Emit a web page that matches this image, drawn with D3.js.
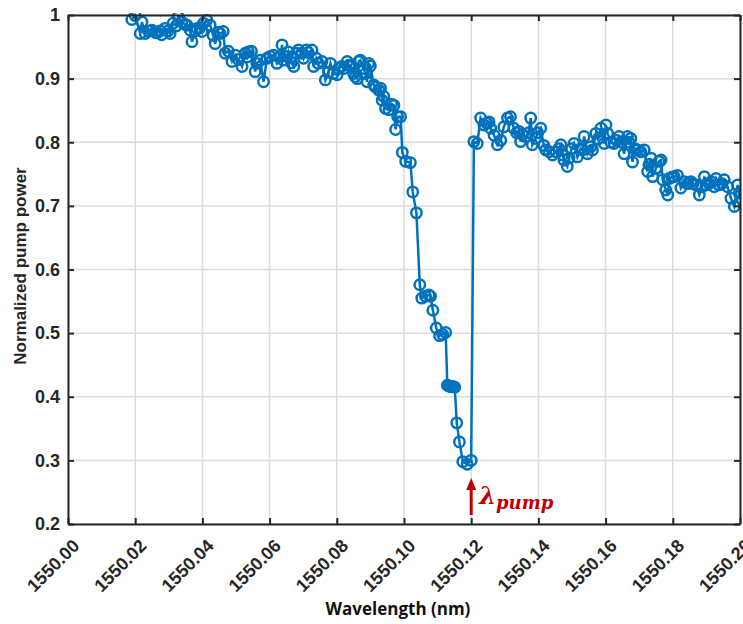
<!DOCTYPE html>
<html>
<head>
<meta charset="utf-8">
<script src="https://cdn.jsdelivr.net/npm/d3@7"></script>
<style>
  body { margin: 0; background: #fff; }
  svg { display: block; }
  .tick text { font-family: "Liberation Sans", Arial, sans-serif; font-weight: bold; fill: #262626; }
</style>
</head>
<body>
<div id="chart"></div>
<script>
// wavelength (nm) and normalized pump power
var wavelength = [
  1550.0190, 1550.0200, 1550.0215, 1550.0220, 1550.0230, 1550.0239, 1550.0250, 1550.0259, 1550.0264, 1550.0274,
  1550.0279, 1550.0289, 1550.0298, 1550.0304, 1550.0313, 1550.0322, 1550.0328, 1550.0339, 1550.0349, 1550.0354,
  1550.0364, 1550.0369, 1550.0379, 1550.0384, 1550.0393, 1550.0399, 1550.0403, 1550.0413, 1550.0423, 1550.0432,
  1550.0438, 1550.0447, 1550.0453, 1550.0462, 1550.0468, 1550.0477, 1550.0488, 1550.0498, 1550.0507, 1550.0518,
  1550.0528, 1550.0533, 1550.0537, 1550.0546, 1550.0557, 1550.0562, 1550.0572, 1550.0582, 1550.0592, 1550.0602,
  1550.0612, 1550.0622, 1550.0632, 1550.0637, 1550.0641, 1550.0652, 1550.0656, 1550.0665, 1550.0672, 1550.0680,
  1550.0686, 1550.0695, 1550.0701, 1550.0709, 1550.0715, 1550.0726, 1550.0731, 1550.0739, 1550.0745, 1550.0756,
  1550.0766, 1550.0775, 1550.0781, 1550.0790, 1550.0801, 1550.0805, 1550.0814, 1550.0821, 1550.0831, 1550.0836,
  1550.0841, 1550.0850, 1550.0855, 1550.0861, 1550.0865, 1550.0870, 1550.0880, 1550.0885, 1550.0890, 1550.0895,
  1550.0900, 1550.0910, 1550.0915, 1550.0925, 1550.0930, 1550.0935, 1550.0940, 1550.0945, 1550.0955, 1550.0963,
  1550.0970, 1550.0975, 1550.0981, 1550.0990, 1550.0995, 1550.1005, 1550.1019, 1550.1026, 1550.1037, 1550.1047,
  1550.1053, 1550.1064, 1550.1074, 1550.1079, 1550.1086, 1550.1096, 1550.1106, 1550.1115, 1550.1124, 1550.1129,
  1550.1133, 1550.1139, 1550.1145, 1550.1151, 1550.1157, 1550.1165, 1550.1175, 1550.1188, 1550.1200, 1550.1208,
  1550.1218, 1550.1228, 1550.1238, 1550.1246, 1550.1253, 1550.1258, 1550.1268, 1550.1278, 1550.1288, 1550.1297,
  1550.1308, 1550.1317, 1550.1327, 1550.1335, 1550.1342, 1550.1347, 1550.1353, 1550.1362, 1550.1371, 1550.1377,
  1550.1382, 1550.1392, 1550.1398, 1550.1407, 1550.1416, 1550.1422, 1550.1432, 1550.1442, 1550.1452, 1550.1461,
  1550.1467, 1550.1472, 1550.1476, 1550.1486, 1550.1491, 1550.1499, 1550.1506, 1550.1516, 1550.1526, 1550.1531,
  1550.1536, 1550.1546, 1550.1556, 1550.1561, 1550.1571, 1550.1577, 1550.1586, 1550.1596, 1550.1601, 1550.1606,
  1550.1616, 1550.1625, 1550.1633, 1550.1640, 1550.1648, 1550.1655, 1550.1665, 1550.1669, 1550.1675, 1550.1680,
  1550.1687, 1550.1695, 1550.1705, 1550.1715, 1550.1725, 1550.1729, 1550.1735, 1550.1740, 1550.1750, 1550.1759,
  1550.1765, 1550.1770, 1550.1779, 1550.1785, 1550.1789, 1550.1797, 1550.1804, 1550.1814, 1550.1824, 1550.1834,
  1550.1844, 1550.1854, 1550.1860, 1550.1869, 1550.1879, 1550.1887, 1550.1894, 1550.1899, 1550.1908, 1550.1914,
  1550.1923, 1550.1929, 1550.1938, 1550.1946, 1550.1953, 1550.1963, 1550.1973, 1550.1983, 1550.1993, 1550.1998,
  1550.2006
];

var power = [
  0.993, 0.999, 0.971, 0.989, 0.971, 0.975, 0.976, 0.973, 0.972, 0.975,
  0.969, 0.979, 0.975, 0.971, 0.987, 0.983, 0.997, 0.989, 0.985, 0.984,
  0.976, 0.958, 0.975, 0.979, 0.980, 0.974, 0.987, 0.992, 0.984, 0.968,
  0.955, 0.973, 0.971, 0.974, 0.940, 0.943, 0.927, 0.937, 0.930, 0.919,
  0.940, 0.934, 0.942, 0.943, 0.911, 0.924, 0.929, 0.895, 0.932, 0.935,
  0.937, 0.924, 0.935, 0.953, 0.929, 0.935, 0.942, 0.925, 0.919, 0.940,
  0.945, 0.940, 0.932, 0.945, 0.941, 0.945, 0.919, 0.932, 0.924, 0.927,
  0.898, 0.910, 0.924, 0.908, 0.906, 0.916, 0.919, 0.916, 0.927, 0.921,
  0.919, 0.908, 0.903, 0.900, 0.927, 0.929, 0.916, 0.908, 0.895, 0.924,
  0.920, 0.890, 0.887, 0.882, 0.885, 0.866, 0.872, 0.853, 0.851, 0.860,
  0.858, 0.820, 0.840, 0.840, 0.784, 0.770, 0.768, 0.722, 0.689, 0.576,
  0.555, 0.558, 0.560, 0.558, 0.536, 0.508, 0.496, 0.498, 0.501, 0.418,
  0.417, 0.416, 0.416, 0.415, 0.359, 0.329, 0.298, 0.294, 0.300, 0.801,
  0.798, 0.838, 0.827, 0.830, 0.832, 0.822, 0.811, 0.796, 0.803, 0.824,
  0.838, 0.840, 0.822, 0.815, 0.817, 0.801, 0.812, 0.809, 0.815, 0.838,
  0.796, 0.806, 0.815, 0.822, 0.795, 0.788, 0.785, 0.780, 0.785, 0.790,
  0.796, 0.780, 0.772, 0.762, 0.775, 0.790, 0.798, 0.777, 0.790, 0.788,
  0.809, 0.782, 0.793, 0.788, 0.814, 0.805, 0.822, 0.798, 0.827, 0.814,
  0.800, 0.798, 0.803, 0.809, 0.800, 0.782, 0.809, 0.800, 0.806, 0.769,
  0.790, 0.788, 0.785, 0.788, 0.754, 0.765, 0.775, 0.746, 0.759, 0.770,
  0.772, 0.741, 0.725, 0.717, 0.743, 0.745, 0.746, 0.748, 0.728, 0.738,
  0.735, 0.738, 0.735, 0.733, 0.717, 0.730, 0.746, 0.733, 0.735, 0.738,
  0.730, 0.743, 0.733, 0.735, 0.741, 0.730, 0.712, 0.699, 0.733, 0.720,
  0.710
];

var xTicks = [1550.00, 1550.02, 1550.04, 1550.06, 1550.08, 1550.10, 1550.12, 1550.14, 1550.16, 1550.18, 1550.20];
var yTicks = [0.2, 0.3, 0.4, 0.5, 0.6, 0.7, 0.8, 0.9, 1];
var pumpWavelength = 1550.12;

var width = 743, height = 624;
var margin = { top: 15, right: 3, bottom: 100, left: 68 };
var innerW = width - margin.left - margin.right;
var innerH = height - margin.top - margin.bottom;

var blue = '#0072BD';
var axisColor = '#262626';

var svg = d3.select('#chart').append('svg')
  .attr('width', width)
  .attr('height', height);

var g = svg.append('g')
  .attr('transform', 'translate(' + margin.left + ',' + margin.top + ')');

var x = d3.scaleLinear().domain([1550.00, 1550.20]).range([0, innerW]);
var y = d3.scaleLinear().domain([0.2, 1]).range([innerH, 0]);

svg.append('defs').append('clipPath').attr('id', 'plotClip')
  .append('rect').attr('x', 0).attr('y', -2).attr('width', innerW).attr('height', innerH + 2);

// grid
g.append('g').selectAll('line.vgrid')
  .data(xTicks)
  .enter().append('line')
  .attr('x1', function (d) { return x(d); })
  .attr('x2', function (d) { return x(d); })
  .attr('y1', 0).attr('y2', innerH)
  .attr('stroke', '#dcdcdc').attr('stroke-width', 1.5);

g.append('g').selectAll('line.hgrid')
  .data(yTicks)
  .enter().append('line')
  .attr('y1', function (d) { return y(d); })
  .attr('y2', function (d) { return y(d); })
  .attr('x1', 0).attr('x2', innerW)
  .attr('stroke', '#dcdcdc').attr('stroke-width', 1.5);

// data
var data = wavelength.map(function (d, i) { return { x: d, y: power[i] }; });

var plot = g.append('g').attr('clip-path', 'url(#plotClip)');

plot.append('path')
  .datum(data)
  .attr('fill', 'none')
  .attr('stroke', blue)
  .attr('stroke-width', 2.5)
  .attr('d', d3.line().x(function (d) { return x(d.x); }).y(function (d) { return y(d.y); }));

plot.selectAll('.marker')
  .data(data)
  .enter().append('circle')
  .attr('class', 'marker')
  .attr('cx', function (d) { return x(d.x); })
  .attr('cy', function (d) { return y(d.y); })
  .attr('r', 5.2)
  .attr('fill', 'none')
  .attr('stroke', blue)
  .attr('stroke-width', 2.5);

// axes (MATLAB style: ticks inside, box all round)
var xAxis = g.append('g')
  .attr('transform', 'translate(0,' + innerH + ')')
  .call(d3.axisBottom(x).tickValues(xTicks).tickSizeInner(-6).tickSizeOuter(0).tickFormat(d3.format('.2f')));

xAxis.selectAll('text')
  .attr('font-size', 18)
  .attr('text-anchor', 'end')
  .attr('dy', 0)
  .attr('transform', 'translate(12,23) rotate(-45)')
  .attr('y', 0).attr('x', 0);

g.append('g')
  .call(d3.axisTop(x).tickValues(xTicks).tickSizeInner(-6).tickSizeOuter(0).tickFormat(''));

var yAxis = g.append('g')
  .call(d3.axisLeft(y).tickValues(yTicks).tickSizeInner(-6).tickSizeOuter(0).tickFormat(d3.format('~g')).tickPadding(8));

yAxis.selectAll('text').attr('font-size', 18);

g.append('g')
  .attr('transform', 'translate(' + innerW + ',0)')
  .call(d3.axisRight(y).tickValues(yTicks).tickSizeInner(-6).tickSizeOuter(0).tickFormat(''));

g.selectAll('.domain').attr('stroke', axisColor).attr('stroke-width', 2);
g.selectAll('.tick line').attr('stroke', axisColor).attr('stroke-width', 2);

// axis labels
svg.append('text')
  .attr('x', margin.left + innerW / 2 - 6)
  .attr('y', 615)
  .attr('text-anchor', 'middle')
  .attr('font-family', '"Open Sans", "Noto Sans", sans-serif')
  .attr('font-weight', 'bold')
  .attr('font-size', 17)
  .attr('fill', '#111')
  .text('Wavelength (nm)');

svg.append('text')
  .attr('transform', 'translate(26,266) rotate(-90)')
  .attr('text-anchor', 'middle')
  .attr('font-family', '"Liberation Sans", Arial, sans-serif')
  .attr('font-weight', 'bold')
  .attr('font-size', 17)
  .attr('fill', '#262626')
  .text('Normalized pump power');

// pump marker
var red = '#C00000';
var ax = x(pumpWavelength);
g.append('line')
  .attr('x1', ax).attr('x2', ax)
  .attr('y1', innerH - 9).attr('y2', innerH - 36)
  .attr('stroke', red).attr('stroke-width', 3);

g.append('path')
  .attr('d', 'M' + (ax - 5) + ',' + (innerH - 34) + 'L' + ax + ',' + (innerH - 46) + 'L' + (ax + 5) + ',' + (innerH - 34) + 'Z')
  .attr('fill', red);

var lab = g.append('text')
  .attr('x', ax + 8)
  .attr('y', innerH - 20)
  .attr('font-family', '"DejaVu Serif", "Liberation Serif", serif')
  .attr('font-style', 'italic')
  .attr('font-weight', 'bold')
  .attr('fill', red);
lab.append('tspan').attr('font-size', 24).text('λ');
lab.append('tspan').attr('font-size', 18).attr('dy', 5).text('pump');
</script>
</body>
</html>
